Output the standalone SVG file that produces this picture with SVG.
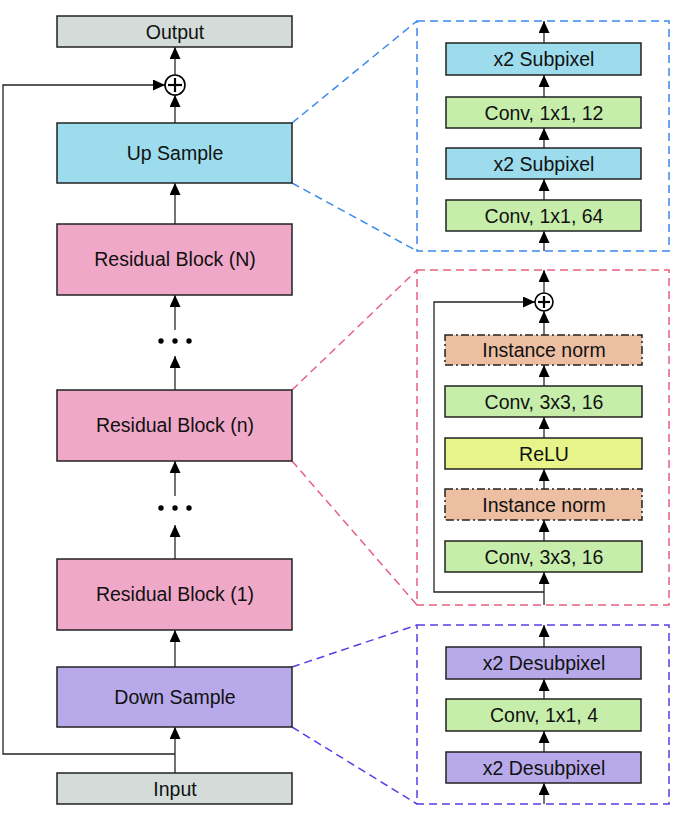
<svg xmlns="http://www.w3.org/2000/svg" width="685" height="820" viewBox="0 0 685 820">
<defs>
<marker id="ah" viewBox="0 0 12 11" refX="12" refY="5.5" markerWidth="12" markerHeight="11" markerUnits="userSpaceOnUse" orient="auto">
<path d="M0,0 L12,5.5 L0,11 z" fill="#000"/>
</marker>
<marker id="ahr" viewBox="0 0 12 11" refX="12" refY="5.5" markerWidth="12" markerHeight="11" markerUnits="userSpaceOnUse" orient="auto">
<path d="M0,0 L12,5.5 L0,11 z" fill="#000"/>
</marker>
</defs>
<style>
text{font-family:"Liberation Sans",Arial,sans-serif;font-size:19.5px;fill:#111;text-anchor:middle}
.box{stroke:#222;stroke-width:1.5}
.io{fill:#d4dcda}
.up{fill:#9ddcec}
.res{fill:#f0a8c8}
.down{fill:#b8aaea}
.conv{fill:#c6eeaa}
.relu{fill:#e6f48a}
.norm{fill:#ecbea2;stroke-dasharray:8 3 2 3}
.c{stroke:#444;stroke-width:1.5;fill:none;marker-end:url(#ah)}
.lr{stroke:#222;stroke-width:1.3;fill:none;marker-end:url(#ahr)}
.pl{stroke:#000;stroke-width:1.6;fill:#fff}
.pc{stroke:#000;stroke-width:2.2}
.dash{fill:none;stroke-width:1.5;stroke-dasharray:8 5}
.blue{stroke:#3a8aec}
.pink{stroke:#e8607e}
.purple{stroke:#5b3ce6}
</style>

<g id="panels">
<rect class="dash blue" x="417" y="21" width="252" height="230"/>
<rect class="dash pink" x="417" y="270" width="252" height="335"/>
<rect class="dash purple" x="417" y="625" width="252" height="179"/>
</g>

<g id="connectors">
<line class="dash blue" x1="292" y1="123" x2="417" y2="21"/>
<line class="dash blue" x1="292" y1="183" x2="417" y2="251"/>
<line class="dash pink" x1="292" y1="390" x2="417" y2="270"/>
<line class="dash pink" x1="292" y1="461" x2="417" y2="605"/>
<line class="dash purple" x1="292" y1="667" x2="417" y2="625"/>
<line class="dash purple" x1="292" y1="727" x2="417" y2="804"/>
<line class="c" x1="175" y1="773" x2="175" y2="727"/>
<line class="c" x1="175" y1="667" x2="175" y2="630"/>
<line class="c" x1="175" y1="559" x2="175" y2="525"/>
<line class="c" x1="175" y1="496" x2="175" y2="461"/>
<line class="c" x1="175" y1="390" x2="175" y2="356"/>
<line class="c" x1="175" y1="330" x2="175" y2="295"/>
<line class="c" x1="175" y1="224" x2="175" y2="183"/>
<line class="c" x1="175" y1="123" x2="175" y2="95"/>
<line class="c" x1="175" y1="75" x2="175" y2="47"/>
<polyline class="lr" points="175,754 3,754 3,85 165,85"/>
<line class="c" x1="544" y1="251" x2="544" y2="231"/>
<line class="c" x1="544" y1="200" x2="544" y2="179"/>
<line class="c" x1="544" y1="148" x2="544" y2="128"/>
<line class="c" x1="544" y1="97" x2="544" y2="75"/>
<line class="c" x1="544" y1="43" x2="544" y2="21"/>
<line class="c" x1="544" y1="605" x2="544" y2="572"/>
<line class="c" x1="544" y1="541" x2="544" y2="520"/>
<line class="c" x1="544" y1="489" x2="544" y2="469"/>
<line class="c" x1="544" y1="438" x2="544" y2="417"/>
<line class="c" x1="544" y1="386" x2="544" y2="365"/>
<line class="c" x1="544" y1="335" x2="544" y2="311"/>
<line class="c" x1="544" y1="293" x2="544" y2="270"/>
<polyline class="lr" points="544,592 434,592 434,302 535,302"/>
<line class="c" x1="544" y1="804" x2="544" y2="783"/>
<line class="c" x1="544" y1="752" x2="544" y2="731"/>
<line class="c" x1="544" y1="699" x2="544" y2="679"/>
<line class="c" x1="544" y1="647" x2="544" y2="625"/>
</g>

<g id="dots">
<circle cx="161" cy="341" r="2.7"/><circle cx="175" cy="341" r="2.7"/><circle cx="189" cy="341" r="2.7"/>
<circle cx="161" cy="508" r="2.7"/><circle cx="175" cy="508" r="2.7"/><circle cx="189" cy="508" r="2.7"/>
</g>

<g id="plus-main">
<circle class="pl" cx="175" cy="85" r="10"/>
<line class="pc" x1="168" y1="85" x2="182" y2="85"/>
<line class="pc" x1="175" y1="78" x2="175" y2="92"/>
</g>
<g id="plus-res">
<circle class="pl" cx="544" cy="302" r="9"/>
<line class="pc" x1="538" y1="302" x2="550" y2="302"/>
<line class="pc" x1="544" y1="296" x2="544" y2="308"/>
</g>

<g id="output"><rect class="box io" x="57" y="16" width="235" height="31"/><text x="175" y="38.5">Output</text></g>
<g id="upsample"><rect class="box up" x="57" y="123" width="235" height="60"/><text x="175" y="160">Up Sample</text></g>
<g id="resN"><rect class="box res" x="57" y="224" width="235" height="71"/><text x="175" y="266">Residual Block (N)</text></g>
<g id="resn"><rect class="box res" x="57" y="390" width="235" height="71"/><text x="175" y="432">Residual Block (n)</text></g>
<g id="res1"><rect class="box res" x="57" y="559" width="235" height="71"/><text x="175" y="601">Residual Block (1)</text></g>
<g id="downsample"><rect class="box down" x="57" y="667" width="235" height="60"/><text x="175" y="704">Down Sample</text></g>
<g id="input"><rect class="box io" x="57" y="773" width="235" height="31"/><text x="175" y="795.5">Input</text></g>

<g id="sub2"><rect class="box up" x="446" y="43" width="195" height="32"/><text x="544" y="66">x2 Subpixel</text></g>
<g id="conv12"><rect class="box conv" x="446" y="97" width="195" height="31"/><text x="544" y="119.5">Conv, 1x1, 12</text></g>
<g id="sub1"><rect class="box up" x="446" y="148" width="195" height="31"/><text x="544" y="170.5">x2 Subpixel</text></g>
<g id="conv64"><rect class="box conv" x="446" y="200" width="195" height="31"/><text x="544" y="222.5">Conv, 1x1, 64</text></g>

<g id="norm2"><rect class="box norm" x="445" y="335" width="197" height="30"/><text x="544" y="357">Instance norm</text></g>
<g id="conv3b"><rect class="box conv" x="445" y="386" width="197" height="31"/><text x="544" y="408.5">Conv, 3x3, 16</text></g>
<g id="relu"><rect class="box relu" x="445" y="438" width="197" height="31"/><text x="544" y="460.5">ReLU</text></g>
<g id="norm1"><rect class="box norm" x="445" y="489" width="197" height="31"/><text x="544" y="511.5">Instance norm</text></g>
<g id="conv3a"><rect class="box conv" x="445" y="541" width="197" height="31"/><text x="544" y="563.5">Conv, 3x3, 16</text></g>

<g id="desub2"><rect class="box down" x="446" y="647" width="195" height="32"/><text x="544" y="670">x2 Desubpixel</text></g>
<g id="conv4"><rect class="box conv" x="446" y="699" width="195" height="32"/><text x="544" y="722">Conv, 1x1, 4</text></g>
<g id="desub1"><rect class="box down" x="446" y="752" width="195" height="31"/><text x="544" y="774.5">x2 Desubpixel</text></g>
</svg>
